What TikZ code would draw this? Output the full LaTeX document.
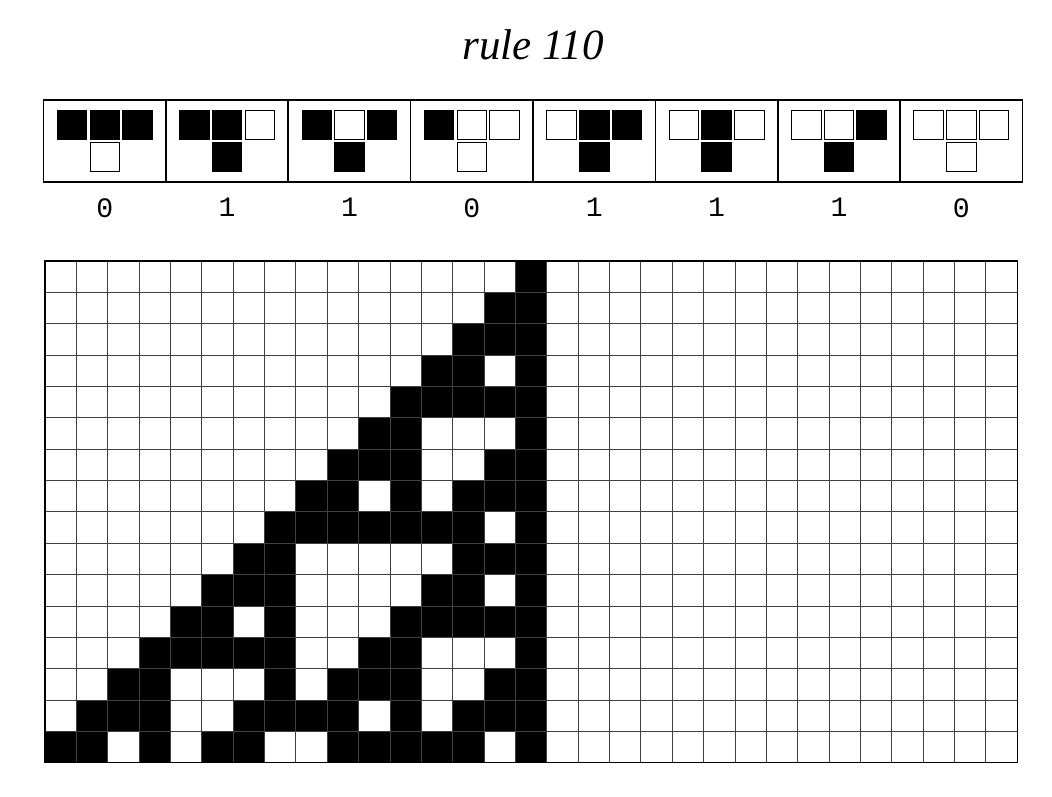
\documentclass[tikz,border=0pt]{standalone}
\usepackage{fontspec}
\setmainfont{Liberation Serif}
\setmonofont{Liberation Mono}
\usetikzlibrary{calc,positioning}
\tikzset{%
	rulebox/.style  = {draw, line width=0.9pt, rectangle, minimum width=2.448cm, minimum height=1.64cm, inner sep=0pt, outer sep=0pt},
	cell1/.style    = {draw, line width=0.5pt, fill=black}, % live cell
	cell0/.style    = {draw, line width=0.5pt, fill=white}, % dead cell
	bitlabel/.style = {font=\ttfamily\fontsize{16}{16}\selectfont},
	title/.style    = {font=\itshape\fontsize{24.5}{24.5}\selectfont},
	gridline/.style = {line width=0.45pt, black!75},
}

\begin{document}
\begin{tikzpicture}[x=0.02cm,y=-0.02cm]
	\useasboundingbox (0,0) rectangle (1052,796);
	\node [title] (title) at (533,45) {rule 110};

	% the eight rule boxes
	\node [rulebox] (r0) at (104.7,141) {};
	\foreach \i [remember=\i as \j (initially 0)] in {1,...,7}
		\node [rulebox,right=0pt of r\j] (r\i) {};

	\foreach \a/\b/\c/\out [count=\i from 0] in {1/1/1/0,1/1/0/1,1/0/1/1,1/0/0/0,0/1/1/1,0/1/0/1,0/0/1/1,0/0/0/0}{
		\draw[cell\a] ($(r\i)+(-47.45,-31.05)$) rectangle +(29.5,29.5);
		\draw[cell\b] ($(r\i)+(-14.75,-31.05)$) rectangle +(29.5,29.5);
		\draw[cell\c] ($(r\i)+(17.95,-31.05)$) rectangle +(29.5,29.5);
		\draw[cell\out] ($(r\i)+(-14.75,1.3)$) rectangle +(29.5,29.5);
		\node [bitlabel,below=0.2cm of r\i] (b\i) {\out};
	}

	% evolution from a single live cell
	\foreach \r/\cs in {0/{15},1/{14,15},2/{13,14,15},3/{12,13,15},4/{11,12,13,14,15},
		5/{10,11,15},6/{9,10,11,14,15},7/{8,9,11,13,14,15},8/{7,8,9,10,11,12,13,15},
		9/{6,7,13,14,15},10/{5,6,7,12,13,15},11/{4,5,7,11,12,13,14,15},
		12/{3,4,5,6,7,10,11,15},13/{2,3,7,9,10,11,14,15},14/{1,2,3,6,7,8,9,11,13,14,15},
		15/{0,1,3,5,6,9,10,11,12,13,15}}
		\foreach \c in \cs
			\fill (45+\c*31.36,261+\r*31.36) rectangle +(31.36,31.36);

	\foreach \c in {1,...,30}
		\draw[gridline] (45+\c*31.36,261) -- (45+\c*31.36,762.8);
	\foreach \r in {1,...,15}
		\draw[gridline] (45,261+\r*31.36) -- (1017.2,261+\r*31.36);
	\draw[line width=0.7pt] (45,261) rectangle (1017.2,762.8);
\end{tikzpicture}
\end{document}
